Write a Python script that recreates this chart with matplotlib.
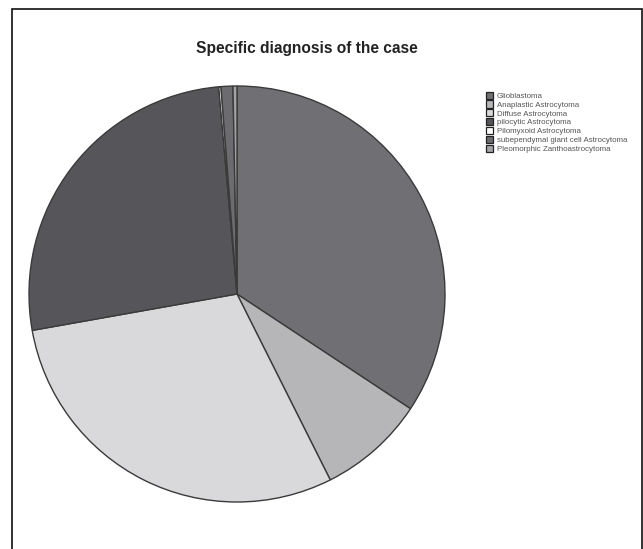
import matplotlib.pyplot as plt
from matplotlib.patches import Rectangle

# diagnosis categories and their share (percent)
labels = ["Glioblastoma", "Anaplastic Astrocytoma", "Diffuse Astrocytoma",
          "pilocytic Astrocytoma", "Pilomyxoid Astrocytoma",
          "subependymal giant cell Astrocytoma", "Pleomorphic Zanthoastrocytoma"]
shares = [34.3, 8.3, 29.6, 26.4, 0.17, 0.92, 0.31]
colors = ["#707074", "#b6b6b8", "#d9d9db", "#56565a", "#ffffff", "#6c6c70", "#a4a4a6"]

W, H = 643, 549
fig = plt.figure(figsize=(W / 100, H / 100), dpi=100)

# outer frame (open at the bottom, as in the scan)
fig.add_artist(Rectangle((12 / W, -0.05), 630 / W, 1.05 - 9 / H, transform=fig.transFigure,
                         fill=False, edgecolor="#111111", linewidth=1.2))

cx, cy, r = 237, 294, 208
ax = fig.add_axes([(cx - r) / W, (H - cy - r) / H, 2 * r / W, 2 * r / H])
wedges, _ = ax.pie(shares, colors=colors, startangle=90, counterclock=False,
                   wedgeprops=dict(edgecolor="#3a3a3a", linewidth=1.0))
ax.set_xlim(-1, 1)
ax.set_ylim(-1, 1)
ax.set_aspect("auto")
ax.axis("off")

fig.text(307 / W, 1 - 48 / H, "Specific diagnosis of the case", ha="center", va="center",
         fontsize=11.2, fontweight="bold", color="#222222", family="Liberation Sans")

handles = [Rectangle((0, 0), 1, 1, facecolor=c, edgecolor="#222222", linewidth=0.9) for c in colors]
leg = fig.legend(handles, labels, loc="upper left", bbox_to_anchor=(480 / W, 1 - 86 / H),
                 frameon=False, handlelength=1.0, handleheight=1.0,
                 handletextpad=0.45, labelspacing=0.08, borderpad=0.2,
                 prop=dict(family="Liberation Sans", size=5.7))
for t in leg.get_texts():
    t.set_color("#555555")

fig.savefig("out.png", dpi=100)
